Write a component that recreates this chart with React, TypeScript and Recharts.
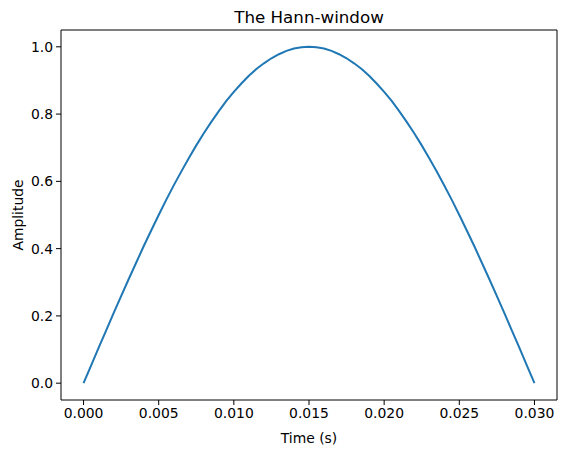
import React from 'react';
import { LineChart, Line, XAxis, YAxis, ReferenceLine } from 'recharts';

// sampled every 0.5 ms
const times = [
  0.0, 0.0005, 0.001, 0.0015, 0.002, 0.0025, 0.003, 0.0035, 0.004, 0.0045, 0.005,
  0.0055, 0.006, 0.0065, 0.007, 0.0075, 0.008, 0.0085, 0.009, 0.0095, 0.01,
  0.0105, 0.011, 0.0115, 0.012, 0.0125, 0.013, 0.0135, 0.014, 0.0145, 0.015,
  0.0155, 0.016, 0.0165, 0.017, 0.0175, 0.018, 0.0185, 0.019, 0.0195, 0.02,
  0.0205, 0.021, 0.0215, 0.022, 0.0225, 0.023, 0.0235, 0.024, 0.0245, 0.025,
  0.0255, 0.026, 0.0265, 0.027, 0.0275, 0.028, 0.0285, 0.029, 0.0295, 0.03,
];
const amplitude = [
  0.0, 0.052, 0.105, 0.156, 0.208, 0.259, 0.309, 0.358, 0.407, 0.454, 0.5,
  0.545, 0.588, 0.629, 0.669, 0.707, 0.743, 0.777, 0.809, 0.839, 0.866,
  0.891, 0.914, 0.934, 0.951, 0.966, 0.978, 0.988, 0.995, 0.999, 1.0,
  0.999, 0.995, 0.988, 0.978, 0.966, 0.951, 0.934, 0.914, 0.891, 0.866,
  0.839, 0.809, 0.777, 0.743, 0.707, 0.669, 0.629, 0.588, 0.545, 0.5,
  0.454, 0.407, 0.358, 0.309, 0.259, 0.208, 0.156, 0.105, 0.052, 0.0,
];
const xTicks = [0, 0.005, 0.01, 0.015, 0.02, 0.025, 0.03];
const yTicks = [0, 0.2, 0.4, 0.6, 0.8, 1.0];

const data = times.map((t, i) => ({ t, a: amplitude[i] }));

const font = 'DejaVu Sans, sans-serif';
const tickStyle = { fontSize: 13.9, fill: '#000', fontFamily: font };

export default function App() {
  return (
    <div style={{ position: 'absolute', left: 0, top: 0, width: 567, height: 453, background: '#fff' }}>
      <div
        style={{
          position: 'absolute', left: 61, width: 496, top: 7, textAlign: 'center',
          fontFamily: font, fontSize: 16.7, color: '#000',
        }}
      >
        The Hann-window
      </div>
      <LineChart
        width={567}
        height={453}
        data={data}
        margin={{ top: 30, right: 10, bottom: 23, left: 11 }}
      >
        <XAxis
          dataKey="t"
          type="number"
          domain={[-0.0015, 0.0315]}
          ticks={xTicks}
          tickFormatter={(v: number) => v.toFixed(3)}
          tick={tickStyle}
          tickSize={5}
          tickMargin={3}
          height={30}
          stroke="#000"
          allowDataOverflow
          label={{ value: 'Time (s)', position: 'insideBottom', offset: -13, style: { fontSize: 13.9, fill: '#000', fontFamily: font } }}
        />
        <YAxis
          type="number"
          domain={[-0.05, 1.05]}
          ticks={yTicks}
          tickFormatter={(v: number) => v.toFixed(1)}
          tick={tickStyle}
          tickSize={5}
          tickMargin={3}
          width={50}
          stroke="#000"
          allowDataOverflow
          label={{ value: 'Amplitude', angle: -90, position: 'insideLeft', offset: 0, dx: 7, style: { textAnchor: 'middle', fontSize: 13.9, fill: '#000', fontFamily: font } }}
        />
        <ReferenceLine y={1.05} stroke="#000" />
        <ReferenceLine x={0.0315} stroke="#000" />
        <Line
          dataKey="a"
          type="linear"
          stroke="#1f77b4"
          strokeWidth={2}
          dot={false}
          isAnimationActive={false}
        />
      </LineChart>
    </div>
  );
}
